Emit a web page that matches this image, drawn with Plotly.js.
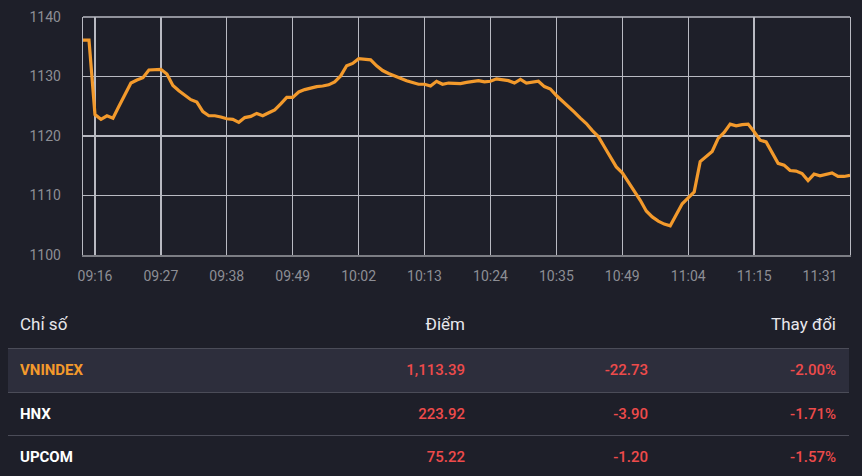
<!DOCTYPE html>
<html>
<head>
<meta charset="utf-8">
<script src="https://cdn.plot.ly/plotly-3.0.1.min.js"></script>
<style>
  html, body { margin: 0; padding: 0; background: #1e1f29; width: 862px; height: 476px; overflow: hidden; font-family: Roboto, "Noto Sans", sans-serif; }
  #chart { position: absolute; left: 0; top: 0; width: 862px; height: 290px; }
  #table { position: absolute; left: 0; top: 290px; width: 862px; height: 186px; }
  .cell { position: absolute; top: 0; white-space: nowrap; }
</style>
</head>
<body>
<div id="chart"></div>
<div id="table"></div>
<script>
// ---- chart data ----
const pointIndex = Array.from({length: 129}, (_, i) => i);
const vnindexValues = [
  1136.1, 1136.1, 1123.6, 1122.8, 1123.4, 1123.0, 1125.0, 1127.1, 1128.9, 1129.4,
  1129.8, 1131.1, 1131.2, 1131.2, 1130.4, 1128.5, 1127.6, 1126.8, 1126.1, 1125.7,
  1124.1, 1123.4, 1123.4, 1123.2, 1122.9, 1122.8, 1122.3, 1123.1, 1123.3, 1123.8,
  1123.4, 1123.9, 1124.4, 1125.4, 1126.5, 1126.5, 1127.4, 1127.8, 1128.1, 1128.3,
  1128.4, 1128.6, 1129.1, 1130.1, 1131.8, 1132.2, 1133.0, 1132.9, 1132.8, 1131.8,
  1131.0, 1130.5, 1130.1, 1129.6, 1129.3, 1129.0, 1128.7, 1128.7, 1128.4, 1129.2,
  1128.7, 1128.9, 1128.9, 1128.8, 1129.0, 1129.1, 1129.3, 1129.1, 1129.2, 1129.6,
  1129.4, 1129.3, 1128.9, 1129.5, 1128.9, 1129.0, 1129.2, 1128.3, 1127.9, 1126.8,
  1125.9, 1124.9, 1124.0, 1123.0, 1122.1, 1120.9, 1119.9, 1118.2, 1116.4, 1114.8,
  1113.8, 1112.3, 1110.6, 1109.2, 1107.4, 1106.4, 1105.7, 1105.2, 1104.9, 1106.7,
  1108.6, 1109.6, 1110.6, 1115.7, 1116.5, 1117.4, 1119.6, 1120.6, 1122.0, 1121.7,
  1121.9, 1122.0, 1120.7, 1119.3, 1119.0, 1117.1, 1115.4, 1115.1, 1114.2, 1114.1,
  1113.7, 1112.5, 1113.6, 1113.3, 1113.5, 1113.8, 1113.2, 1113.2, 1113.39
];
const tickPositions = [2, 13, 24, 35, 46, 57, 68, 79, 90, 101, 112, 123];
const tickLabels = ['09:16', '09:27', '09:38', '09:49', '10:02', '10:13', '10:24', '10:35', '10:49', '11:04', '11:15', '11:31'];
const gridPositions = tickPositions.slice(0, 11);
const yTicks = [1100, 1110, 1120, 1130, 1140];

// ---- table data ----
const headers = ['Chỉ số', 'Điểm', 'Thay đổi'];
const indexNames = ['VNINDEX', 'HNX', 'UPCOM'];
const indexPoints = ['1,113.39', '223.92', '75.22'];
const indexChange = ['-22.73', '-3.90', '-1.20'];
const indexPct = ['-2.00%', '-1.71%', '-1.57%'];

const gridColor = '#b9bac2';
const tickFont = {family: 'Roboto, sans-serif', size: 14, color: '#8d8e95'};

const trace = {
  x: pointIndex, y: vnindexValues, type: 'scatter', mode: 'lines',
  line: {color: '#f39a2c', width: 3.2, shape: 'linear'},
  hoverinfo: 'skip', xaxis: 'x', yaxis: 'y'
};
const ghost = {
  x: pointIndex, y: vnindexValues, type: 'scatter', mode: 'lines',
  line: {color: 'rgba(0,0,0,0)', width: 0}, hoverinfo: 'skip', xaxis: 'x2', yaxis: 'y', showlegend: false
};

const layout = {
  width: 862, height: 290,
  margin: {l: 83, r: 12, t: 17, b: 35},
  paper_bgcolor: '#1e1f29', plot_bgcolor: '#1e1f29',
  showlegend: false,
  xaxis: {
    range: [0, 128], tickmode: 'array', tickvals: gridPositions, showticklabels: false,
    showgrid: true, gridcolor: gridColor, gridwidth: 1.3, zeroline: false,
    showline: true, linecolor: '#7c7d84', linewidth: 2, ticks: ''
  },
  xaxis2: {
    range: [0, 128], overlaying: 'x', anchor: 'y', side: 'bottom',
    tickmode: 'array', tickvals: tickPositions, ticktext: tickLabels,
    showgrid: false, zeroline: false, showline: false, ticks: '',
    tickfont: tickFont, ticklabelstandoff: 11
  },
  yaxis: {
    range: [1100, 1140], tickmode: 'array', tickvals: yTicks,
    showgrid: true, gridcolor: gridColor, gridwidth: 1.3, zeroline: false,
    showline: true, mirror: true, linecolor: gridColor, linewidth: 1.3, ticks: '',
    tickfont: tickFont, ticklabelstandoff: 18
  },
  shapes: [{
    type: 'line', xref: 'paper', yref: 'paper', x0: 0, x1: 1, y0: 1, y1: 1,
    line: {color: gridColor, width: 1.3}
  }]
};

Plotly.newPlot('chart', [trace, ghost], layout, {displayModeBar: false, staticPlot: true});

// ---- table ----
const table = document.getElementById('table');
function addText(parent, text, opts) {
  const d = document.createElement('div');
  d.className = 'cell';
  d.textContent = text;
  Object.assign(d.style, opts);
  parent.appendChild(d);
  return d;
}
const headStyle = {top: '23px', fontSize: '17px', color: '#e8e8ec', lineHeight: '22px'};
addText(table, headers[0], Object.assign({left: '20px'}, headStyle));
addText(table, headers[1], Object.assign({right: (862 - 465) + 'px'}, headStyle));
addText(table, headers[2], Object.assign({right: (862 - 836) + 'px'}, headStyle));

const rowTops = [58, 102, 145];
const rowH = 43;
const red = '#ee4b4b';
indexNames.forEach((name, i) => {
  const top = rowTops[i];
  if (i === 0) {
    const bg = document.createElement('div');
    Object.assign(bg.style, {position: 'absolute', left: '8px', width: '841px', top: top + 'px', height: rowH + 'px', background: '#2d2e3c', borderTop: '1px solid #4b4c58', borderBottom: '1px solid #4b4c58'});
    table.appendChild(bg);
  } else {
    const ln = document.createElement('div');
    Object.assign(ln.style, {position: 'absolute', left: '8px', width: '841px', top: (top + rowH) + 'px', height: '1px', background: '#4b4c58'});
    table.appendChild(ln);
  }
  const common = {top: (top + 11) + 'px', fontSize: '15px', lineHeight: '22px'};
  addText(table, name, Object.assign({left: '20px', color: i === 0 ? '#f39a2c' : '#ffffff', fontWeight: '700'}, common));
  addText(table, indexPoints[i], Object.assign({right: (862 - 465) + 'px', color: red, fontWeight: '500'}, common));
  addText(table, indexChange[i], Object.assign({right: (862 - 648) + 'px', color: red, fontWeight: '500'}, common));
  addText(table, indexPct[i], Object.assign({right: (862 - 836) + 'px', color: red, fontWeight: '500'}, common));
});
</script>
</body>
</html>
